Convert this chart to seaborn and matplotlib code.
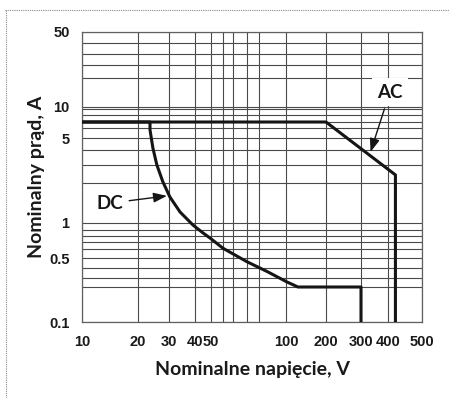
import numpy as np
import pandas as pd
import matplotlib
matplotlib.use("Agg")
import matplotlib.pyplot as plt
from matplotlib.lines import Line2D
import seaborn as sns

# --- dane ---
ac_napiecie = [10, 200, 420, 420]
ac_prad = [7, 7, 2.4, 0.1]

dc_napiecie = [10, 23.4, 23.4, 24.3, 25.6, 27.7, 30.3, 33.9, 39.1, 44.7, 49.3,
               60, 80, 93, 102, 123, 300, 300]
dc_prad = [7, 7, 5.8, 4.15, 3.0, 2.05, 1.57, 1.21, 0.97, 0.85, 0.765,
           0.61, 0.46, 0.36, 0.25, 0.2, 0.2, 0.1]

x_ticks = [10, 20, 30, 40, 50, 100, 200, 300, 400, 500]
y_ticks = [0.1, 0.5, 1, 5, 10, 50]
y_tick_labels = ["0.1", "0.5", "1", "5", "10", "50"]

# linie siatki papieru (wartosci) i ich polozenie na oryginalnym papierze
x_grid = [10, 20, 30, 40, 50, 60, 70, 80, 90, 100, 200, 300, 400, 500]
x_paper = [82, 138, 169, 195, 211, 223, 233, 247, 259, 286, 326, 361, 388, 422]
y_grid = [0.1, 0.2, 0.3, 0.4, 0.5, 0.6, 0.7, 0.8, 0.9, 1, 2, 3, 4, 5, 6, 7, 8, 9, 10,
          20, 25, 30, 40, 50]
y_paper = [322, 287, 278, 268, 258, 249, 242, 236, 230, 223, 183, 165, 150, 138, 128,
           122, 115, 109, 107, 78, 65, 54, 43, 32]


def skala_papieru(wartosci, polozenie):
    lv = np.log10(np.asarray(wartosci, float))
    p = np.asarray(polozenie, float)
    s0 = (p[1] - p[0]) / (lv[1] - lv[0])
    s1 = (p[-1] - p[-2]) / (lv[-1] - lv[-2])

    def fwd(v):
        l = np.log10(np.clip(np.asarray(v, float), 1e-9, None))
        out = np.interp(l, lv, p)
        out = np.where(l < lv[0], p[0] + (l - lv[0]) * s0, out)
        out = np.where(l > lv[-1], p[-1] + (l - lv[-1]) * s1, out)
        return out

    def inv(q):
        q = np.asarray(q, float)
        l = np.interp(q, p, lv)
        l = np.where(q < p[0], lv[0] + (q - p[0]) / s0, l)
        l = np.where(q > p[-1], lv[-1] + (q - p[-1]) / s1, l)
        return 10 ** l

    return fwd, inv


df = pd.concat([
    pd.DataFrame({"U": ac_napiecie, "I": ac_prad, "typ": "AC"}),
    pd.DataFrame({"U": dc_napiecie, "I": dc_prad, "typ": "DC"}),
], ignore_index=True)

sns.set_style("white")
plt.rcParams["font.family"] = ["Lato", "DejaVu Sans"]

fig = plt.figure(figsize=(4.49, 3.98), dpi=100)
ax = fig.add_axes([82 / 449, 1 - 322 / 398, 340 / 449, 290 / 398])

sns.lineplot(data=df, x="U", y="I", hue="typ", palette=["#151515", "#151515"],
             estimator=None, sort=False, linewidth=2.2, legend=False, ax=ax,
             zorder=3)

ax.set_xscale("function", functions=skala_papieru(x_grid, x_paper))
ax.set_yscale("function", functions=skala_papieru(y_grid, [-v for v in y_paper]))
ax.set_xlim(10, 500)
ax.set_ylim(0.1, 50)

tick_font = dict(fontfamily="Liberation Sans", fontweight="bold", fontsize=10.5,
                 color="#1a1a1a")
ax.set_xticks(x_ticks, [str(t) for t in x_ticks], **tick_font)
ax.set_yticks(y_ticks, y_tick_labels, **tick_font)
ax.set_xticks(x_grid, minor=True)
ax.set_yticks(y_grid, minor=True)
ax.tick_params(which="both", length=0)
ax.tick_params(axis="x", pad=9)
ax.tick_params(axis="y", pad=9)

ax.set_axisbelow(True)
ax.grid(which="both", color="#4a4a4a", linewidth=0.8)
for s in ax.spines.values():
    s.set_color("#606060")
    s.set_linewidth(0.9)

ax.set_xlabel("Nominalne napięcie, V", fontsize=14, fontweight="bold",
              color="#1a1a1a", labelpad=9)
ax.set_ylabel("Nominalny prąd, A", fontsize=14, fontweight="bold",
              color="#1a1a1a", labelpad=3)

strzalka = dict(arrowstyle="-|>,head_length=0.6,head_width=0.22", color="#151515",
                lw=1.0, shrinkA=2, shrinkB=0)
ax.annotate("DC", xy=(29.2, 1.6), xytext=(14.1, 1.41), ha="center", va="center",
            fontsize=13.5, fontweight="bold", color="#151515", arrowprops=strzalka,
            zorder=4)
ax.annotate("AC", xy=(332, 3.85), xytext=(405, 14.3), ha="center", va="center",
            fontsize=13.5, fontweight="bold", color="#151515", arrowprops=strzalka,
            bbox=dict(boxstyle="square,pad=0.3", fc="white", ec="none"), zorder=4)

# kropkowana ramka
fig.add_artist(Line2D([5 / 449, 1], [1 - 9.5 / 398] * 2, transform=fig.transFigure,
                      color="#8a8a8a", lw=0.8, ls=(0, (1, 1))))
fig.add_artist(Line2D([5.5 / 449] * 2, [0, 1 - 9.5 / 398], transform=fig.transFigure,
                      color="#8a8a8a", lw=0.8, ls=(0, (1, 1))))

fig.savefig("out.png", dpi=100)
